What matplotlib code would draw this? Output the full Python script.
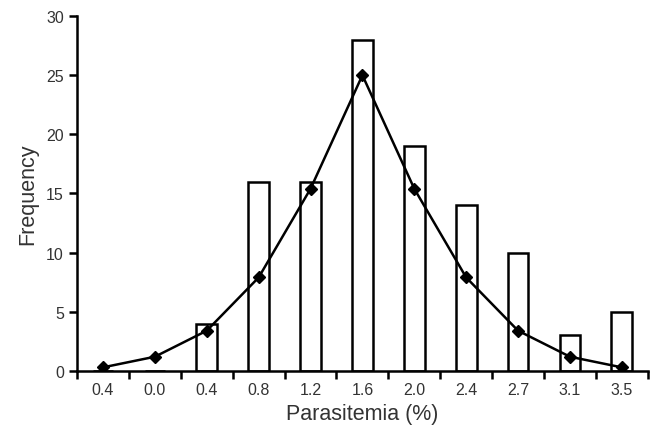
import numpy as np
import matplotlib.pyplot as plt

plt.rcParams['font.family'] = ['Liberation Sans', 'DejaVu Sans']

# Data
bin_labels = ['0.4', '0.0', '0.4', '0.8', '1.2', '1.6', '2.0', '2.4', '2.7', '3.1', '3.5']
counts = [0, 0, 4, 16, 16, 28, 19, 14, 10, 3, 5]
fitted = [0.3, 1.2, 3.4, 7.9, 15.4, 25.0, 15.4, 7.9, 3.4, 1.2, 0.3]

x = np.arange(len(bin_labels))

fig = plt.figure(figsize=(6.53, 4.27), dpi=100)
ax = fig.add_axes([0.118, 0.129, 0.874, 0.831])

ax.bar(x, counts, width=0.4, facecolor='white', edgecolor='black', linewidth=1.8, zorder=2)
ax.plot(x, fitted, color='black', linewidth=1.8, marker='D', markersize=6.5, zorder=3)

ax.set_xlim(-0.5, len(bin_labels) - 0.5)
ax.set_ylim(0, 30)
ax.set_yticks(range(0, 31, 5))

# ticks at bin boundaries, labels in between
ax.set_xticks(np.arange(-0.5, len(bin_labels), 1.0))
ax.set_xticklabels([])
ax.set_xticks(x, minor=True)
ax.set_xticklabels(bin_labels, minor=True)
ax.tick_params(axis='x', which='minor', length=0, pad=8, labelsize=11.5, labelcolor='#333333')
ax.tick_params(axis='x', which='major', length=6, width=1.8)
ax.tick_params(axis='y', length=6, width=1.8, labelsize=11.5, labelcolor='#333333')

for side in ['top', 'right']:
    ax.spines[side].set_visible(False)
for side in ['left', 'bottom']:
    ax.spines[side].set_linewidth(1.8)

ax.set_xlabel('Parasitemia (%)', fontsize=15.5, color='#333333', labelpad=4)
ax.set_ylabel('Frequency', fontsize=15.5, color='#333333', labelpad=6)

fig.savefig('out.png', dpi=100)
